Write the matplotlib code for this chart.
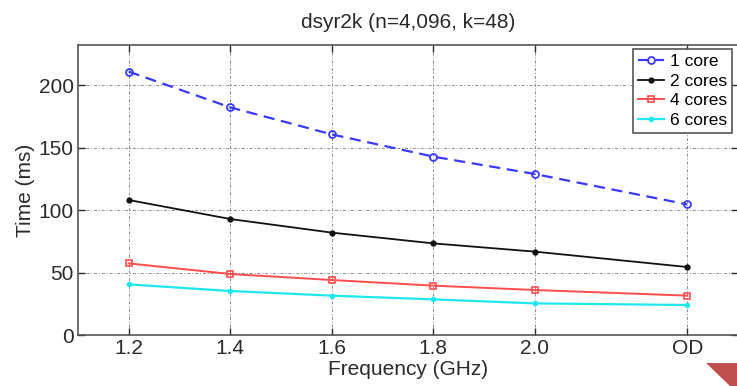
import matplotlib
matplotlib.use("Agg")
import matplotlib.pyplot as plt
from matplotlib.patches import Polygon

plt.rcParams['font.family'] = ['Liberation Sans', 'DejaVu Sans']

# Frequency settings; "OD" (on-demand governor) sits after 2.0 GHz
freq_pos = [1.2, 1.4, 1.6, 1.8, 2.0, 2.3]
freq_labels = ['1.2', '1.4', '1.6', '1.8', '2.0', 'OD']

# Execution time (ms) per core count
time_1core = [210.7, 182.1, 160.5, 142.7, 128.8, 104.5]
time_2cores = [108.0, 92.8, 81.9, 73.3, 66.7, 54.4]
time_4cores = [57.3, 48.8, 44.0, 39.5, 36.0, 31.5]
time_6cores = [40.5, 35.2, 31.5, 28.5, 25.3, 24.0]

y_ticks = [0, 50, 100, 150, 200]

fig = plt.figure(figsize=(7.37, 3.86), dpi=100)
ax = fig.add_axes([0.1058, 0.1321, 0.8955, 0.7513])

ax.plot(freq_pos, time_1core, color='#3a3aff', linestyle=(0, (5, 3)), linewidth=1.6,
        marker='o', markersize=5, markerfacecolor='none', markeredgewidth=1.3,
        label='1 core')
ax.plot(freq_pos, time_2cores, color='#111111', linestyle='-', linewidth=1.3,
        marker='.', markersize=7, label='2 cores')
ax.plot(freq_pos, time_4cores, color='#ff4d4d', linestyle='-', linewidth=1.4,
        marker='s', markersize=5, markerfacecolor='none', markeredgewidth=1.2,
        label='4 cores')
ax.plot(freq_pos, time_6cores, color='#1ee8ee', linestyle='-', linewidth=1.6,
        marker='.', markersize=6, label='6 cores')

ax.set_xlim(1.1, 2.4)
ax.set_ylim(0, 232)
ax.set_xticks(freq_pos)
ax.set_xticklabels(freq_labels)
ax.set_yticks(y_ticks)

ax.grid(True, linestyle=(0, (3, 2, 1, 2)), color='#8a8a8a', linewidth=0.7)
ax.tick_params(direction='in', top=True, right=True, length=5, width=1,
               labelsize=15, colors='#2a2a2a', pad=3)
for s in ax.spines.values():
    s.set_color('#555555')
    s.set_linewidth(1.2)

ax.set_xlabel('Frequency (GHz)', fontsize=15, color='#2a2a2a', labelpad=1)
ax.set_ylabel('Time (ms)', fontsize=15, color='#2a2a2a', labelpad=3)
ax.set_title('dsyr2k (n=4,096, k=48)', fontsize=15, color='#2a2a2a', pad=12)

leg = ax.legend(loc='upper right', bbox_to_anchor=(732 / 737, 1 - 49 / 386),
                bbox_transform=fig.transFigure, borderaxespad=0,
                fontsize=12.5, fancybox=False, framealpha=1, edgecolor='#555555',
                handlelength=1.5, handletextpad=0.3, labelspacing=0.25,
                borderpad=0.3)
leg.get_frame().set_linewidth(1.2)

# corner accent in the lower right
fig.patches.append(Polygon([(706 / 737, 1 - 363 / 386), (1.0, 1 - 363 / 386),
                            (1.0, 0.0), (730 / 737, 0.0)],
                           closed=True, transform=fig.transFigure,
                           facecolor='#c0504d', edgecolor='none'))

fig.savefig('out.png', dpi=100)
